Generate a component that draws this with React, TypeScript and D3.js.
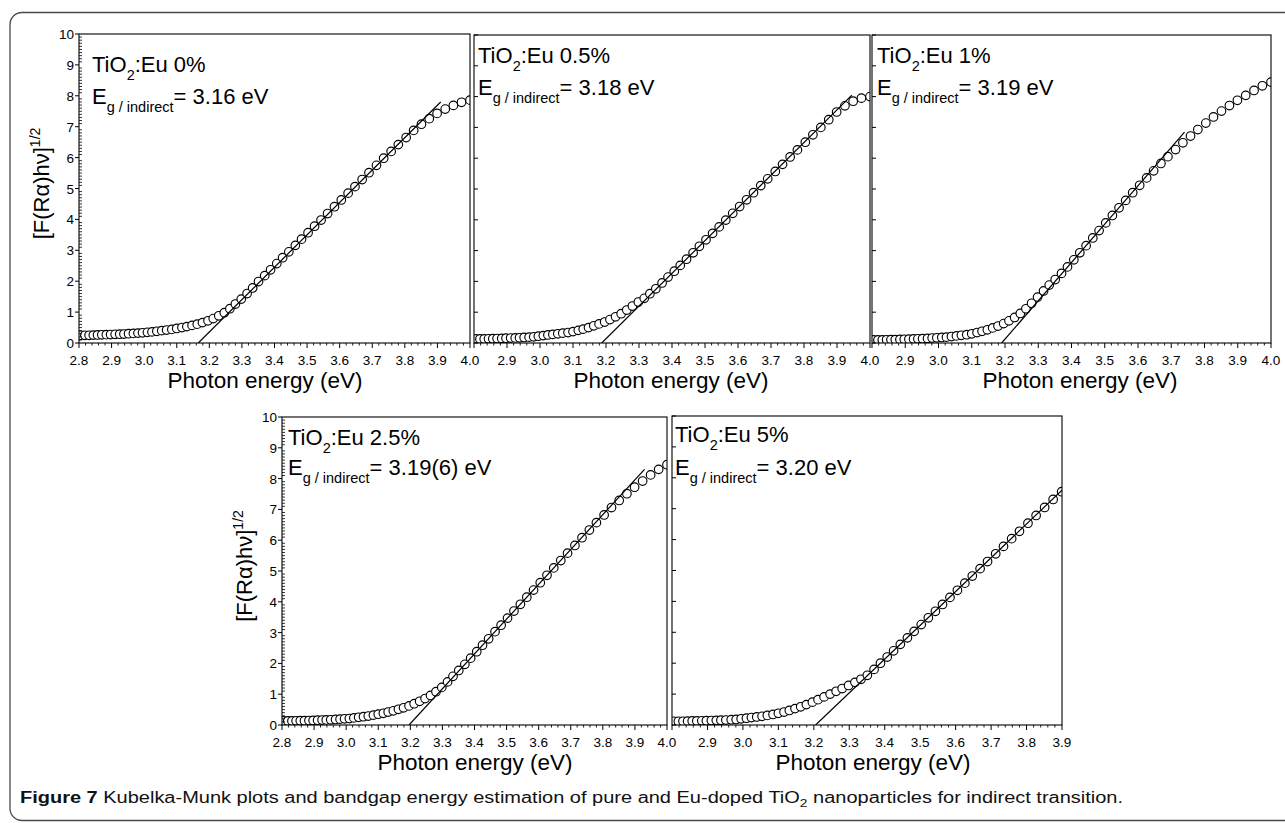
import React from 'react';
import * as d3 from 'd3';

// Photon energies of the measured points (eV)
const ENERGY = [2.805, 2.818, 2.831, 2.844, 2.857, 2.870, 2.884, 2.897, 2.911, 2.925, 2.938, 2.952, 2.967, 2.981, 2.995, 3.010, 3.024, 3.039, 3.054, 3.069, 3.085, 3.100, 3.116, 3.131, 3.147, 3.163, 3.179, 3.196, 3.212, 3.229, 3.246, 3.263, 3.280, 3.298, 3.316, 3.333, 3.351, 3.370, 3.388, 3.407, 3.425, 3.444, 3.464, 3.483, 3.503, 3.523, 3.543, 3.563, 3.584, 3.605, 3.626, 3.647, 3.669, 3.690, 3.713, 3.735, 3.758, 3.780, 3.804, 3.827, 3.851, 3.875, 3.899, 3.924, 3.949, 3.974, 4.000];

// [F(R)hv]^1/2 values per sample
const Y_EU0 = [0.25, 0.25, 0.25, 0.255, 0.26, 0.265, 0.27, 0.275, 0.28, 0.285, 0.29, 0.30, 0.31, 0.32, 0.33, 0.345, 0.36, 0.38, 0.40, 0.42, 0.44, 0.47, 0.50, 0.53, 0.57, 0.61, 0.66, 0.72, 0.79, 0.88, 0.98, 1.11, 1.26, 1.42, 1.60, 1.78, 1.99, 2.18, 2.37, 2.57, 2.76, 2.95, 3.16, 3.36, 3.57, 3.78, 3.98, 4.19, 4.41, 4.63, 4.85, 5.06, 5.29, 5.51, 5.75, 5.98, 6.20, 6.42, 6.65, 6.88, 7.08, 7.26, 7.43, 7.57, 7.69, 7.79, 7.86];
const Y_EU05 = [0.13, 0.13, 0.13, 0.135, 0.14, 0.145, 0.15, 0.155, 0.16, 0.165, 0.17, 0.18, 0.19, 0.20, 0.22, 0.24, 0.26, 0.28, 0.30, 0.32, 0.34, 0.37, 0.41, 0.45, 0.50, 0.56, 0.62, 0.68, 0.76, 0.85, 0.95, 1.07, 1.20, 1.33, 1.45, 1.60, 1.76, 1.95, 2.14, 2.33, 2.52, 2.72, 2.93, 3.14, 3.35, 3.56, 3.77, 3.99, 4.21, 4.43, 4.65, 4.88, 5.11, 5.33, 5.57, 5.80, 6.04, 6.27, 6.52, 6.76, 7.00, 7.25, 7.50, 7.70, 7.85, 7.95, 8.00];
const Y_EU1 = [0.10, 0.10, 0.10, 0.105, 0.11, 0.11, 0.115, 0.12, 0.125, 0.13, 0.135, 0.14, 0.15, 0.16, 0.17, 0.18, 0.19, 0.21, 0.23, 0.25, 0.27, 0.30, 0.34, 0.38, 0.43, 0.49, 0.55, 0.63, 0.72, 0.83, 0.96, 1.11, 1.29, 1.49, 1.69, 1.88, 2.06, 2.26, 2.47, 2.70, 2.93, 3.16, 3.41, 3.65, 3.90, 4.14, 4.39, 4.63, 4.88, 5.12, 5.36, 5.59, 5.83, 6.05, 6.28, 6.50, 6.72, 6.93, 7.14, 7.34, 7.53, 7.71, 7.88, 8.04, 8.20, 8.35, 8.47];
const Y_EU25 = [0.13, 0.13, 0.13, 0.135, 0.14, 0.14, 0.145, 0.15, 0.155, 0.16, 0.165, 0.17, 0.18, 0.19, 0.20, 0.21, 0.23, 0.25, 0.27, 0.29, 0.32, 0.35, 0.38, 0.42, 0.46, 0.51, 0.56, 0.62, 0.69, 0.77, 0.86, 0.96, 1.08, 1.22, 1.40, 1.58, 1.77, 1.97, 2.17, 2.38, 2.59, 2.80, 3.03, 3.24, 3.47, 3.70, 3.92, 4.15, 4.38, 4.62, 4.86, 5.10, 5.34, 5.58, 5.83, 6.08, 6.33, 6.57, 6.82, 7.06, 7.29, 7.51, 7.72, 7.92, 8.12, 8.30, 8.45];
const Y_EU5 = [0.12, 0.12, 0.12, 0.125, 0.13, 0.13, 0.135, 0.14, 0.145, 0.15, 0.155, 0.16, 0.17, 0.18, 0.20, 0.22, 0.24, 0.26, 0.28, 0.31, 0.34, 0.38, 0.42, 0.47, 0.53, 0.59, 0.66, 0.74, 0.82, 0.91, 1.00, 1.09, 1.18, 1.28, 1.38, 1.48, 1.61, 1.80, 2.00, 2.20, 2.40, 2.61, 2.82, 3.03, 3.25, 3.47, 3.68, 3.90, 4.13, 4.36, 4.59, 4.82, 5.06, 5.29, 5.54, 5.78, 6.03, 6.27, 6.53, 6.78, 7.04, 7.30, 7.55];

const SERIES = [Y_EU0, Y_EU05, Y_EU1, Y_EU25, Y_EU5];
const DOPING = ['0%', '0.5%', '1%', '2.5%', '5%'];
const EG_TEXT = ['3.16', '3.18', '3.19', '3.19(6)', '3.20'];
// linear fit: intercept on x axis and upper end point
const FIT_X0 = [3.166, 3.187, 3.19, 3.196, 3.205];
const FIT_END_E = [3.91, 3.945, 3.74, 3.93, 3.9];
const FIT_END_Y = [7.8, 8.05, 6.85, 8.3, 7.6];
const X_MAX = [4.0, 4.0, 4.0, 4.0, 3.9];
const Y_TICKS = [0, 1, 2, 3, 4, 5, 6, 7, 8, 9, 10];

// layout
const PANELS = [
  { x0: 79, x1: 470, y0: 34, y1: 343, yLab: true, tx: 13, ty1: 72, ty2: 104, firstLabel: true, titleX: 265 },
  { x0: 474, x1: 870, y0: 35, y1: 343, yLab: false, tx: 4, ty1: 63, ty2: 95, firstLabel: false, titleX: 671 },
  { x0: 872, x1: 1271, y0: 35, y1: 343, yLab: false, tx: 5, ty1: 63, ty2: 95, firstLabel: false, titleX: 1080 },
  { x0: 282, x1: 667, y0: 417, y1: 725, yLab: true, tx: 6, ty1: 445, ty2: 475, firstLabel: true, titleX: 475 },
  { x0: 672, x1: 1062, y0: 416, y1: 725, yLab: false, tx: 3, ty1: 442, ty2: 475, firstLabel: false, titleX: 873 },
];

const FONT = "'Liberation Sans', Arial, Helvetica, sans-serif";

function Panel({ i }: { i: number }) {
  const p = PANELS[i];
  const xmax = X_MAX[i];
  const x = d3.scaleLinear().domain([2.8, xmax]).range([p.x0, p.x1]);
  const y = d3.scaleLinear().domain([0, 10]).range([p.y1, p.y0]);
  const ys = SERIES[i];
  const pts = ENERGY.map((e, k) => [e, ys[k]] as [number, number]).filter((d) => d[1] !== undefined && d[0] <= xmax + 1e-9);
  const majors = d3.range(28, Math.round(xmax * 10) + 1).map((v) => v / 10);
  const minors = d3.range(280, Math.round(xmax * 100) + 1, 2).map((v) => v / 100).filter((v) => Math.abs(v * 10 - Math.round(v * 10)) > 1e-6);
  const yMinors = d3.range(0, 101).map((v) => v / 10).filter((v) => Math.abs(v - Math.round(v)) > 1e-6);
  const fit = d3.line()([
    [x(FIT_X0[i]), y(0)],
    [x(FIT_END_E[i]), y(FIT_END_Y[i])],
  ]);
  const clipId = `clip${i}`;
  return (
    <g>
      <defs>
        <clipPath id={clipId}>
          <rect x={p.x0} y={p.y0} width={p.x1 - p.x0} height={p.y1 - p.y0} />
        </clipPath>
      </defs>
      <rect x={p.x0} y={p.y0} width={p.x1 - p.x0} height={p.y1 - p.y0} fill="white" stroke="none" />
      <g clipPath={`url(#${clipId})`}>
        {pts.map((d, k) => (
          <circle key={k} cx={x(d[0])} cy={y(d[1])} r={4.3} fill="white" stroke="#000" strokeWidth={1.15} />
        ))}
        <path d={fit || ''} stroke="#000" strokeWidth={1.2} fill="none" />
      </g>
      <rect x={p.x0} y={p.y0} width={p.x1 - p.x0} height={p.y1 - p.y0} fill="none" stroke="#000" strokeWidth={1.1} />
      {majors.map((v) => (
        <line key={'M' + v} x1={x(v)} x2={x(v)} y1={p.y1} y2={p.y1 + 5} stroke="#000" strokeWidth={1} />
      ))}
      {minors.map((v) => (
        <line key={'m' + v} x1={x(v)} x2={x(v)} y1={p.y1} y2={p.y1 + 2.5} stroke="#000" strokeWidth={0.9} />
      ))}
      {majors.map((v, k) =>
        k === 0 && !p.firstLabel ? null : (
          <text key={'L' + v} x={x(v)} y={p.y1 + 22} fontSize={13.5} textAnchor="middle" fontFamily={FONT}>
            {v.toFixed(1)}
          </text>
        )
      )}
      {p.yLab ? (
        <g>
          {Y_TICKS.map((v) => (
            <line key={'yM' + v} x1={p.x0 - 4} x2={p.x0} y1={y(v)} y2={y(v)} stroke="#000" strokeWidth={1} />
          ))}
          {yMinors.map((v) => (
            <line key={'ym' + v} x1={p.x0} x2={p.x0 + 3} y1={y(v)} y2={y(v)} stroke="#000" strokeWidth={0.8} />
          ))}
          {Y_TICKS.map((v) => (
            <text key={'yL' + v} x={p.x0 - 5} y={y(v) + 5} fontSize={13.5} textAnchor="end" fontFamily={FONT}>
              {v}
            </text>
          ))}
          <text transform={`translate(${p.x0 - 30},${(p.y0 + p.y1) / 2 - 5}) rotate(-90)`} fontSize={22} textAnchor="middle" fontFamily={FONT}>
            [F(R<tspan>α</tspan>)h<tspan>ν</tspan>]<tspan fontSize={14} dy={-9}>1/2</tspan>
          </text>
        </g>
      ) : (
        <g>
          {Y_TICKS.map((v) => (
            <line key={'yM' + v} x1={p.x0} x2={p.x0 + 4} y1={y(v)} y2={y(v)} stroke="#000" strokeWidth={1} />
          ))}
        </g>
      )}
      <text x={p.x0 + p.tx} y={p.ty1} fontSize={22} fontFamily={FONT}>
        TiO<tspan fontSize={14.5} dy={8}>2</tspan>
        <tspan dy={-8}>:Eu {DOPING[i]}</tspan>
      </text>
      <text x={p.x0 + p.tx} y={p.ty2} fontSize={22} fontFamily={FONT}>
        E<tspan fontSize={14.5} dy={8}>g / indirect</tspan>
        <tspan dy={-8}>= {EG_TEXT[i]} eV</tspan>
      </text>
      <text x={p.titleX} y={p.y1 + 45} fontSize={22.5} textAnchor="middle" fontFamily={FONT}>
        Photon energy (eV)
      </text>
    </g>
  );
}

export default function App() {
  return (
    <svg width={1285} height={823} style={{ position: 'absolute', left: 0, top: 0, background: '#fff' }}>
      <rect x={10} y={12.5} width={1340} height={808} rx={12} fill="white" stroke="#4a4a4a" strokeWidth={1.3} />
      {PANELS.map((_, i) => (
        <Panel key={i} i={i} />
      ))}
      <text x={20} y={803} fontSize={16} fontFamily={FONT} textLength={1103} lengthAdjust="spacingAndGlyphs" fill="#111">
        <tspan fontWeight="bold">Figure 7</tspan> Kubelka-Munk plots and bandgap energy estimation of pure and Eu-doped TiO
        <tspan fontSize={11} dy={4}>2</tspan>
        <tspan dy={-4}> nanoparticles for indirect transition.</tspan>
      </text>
    </svg>
  );
}
